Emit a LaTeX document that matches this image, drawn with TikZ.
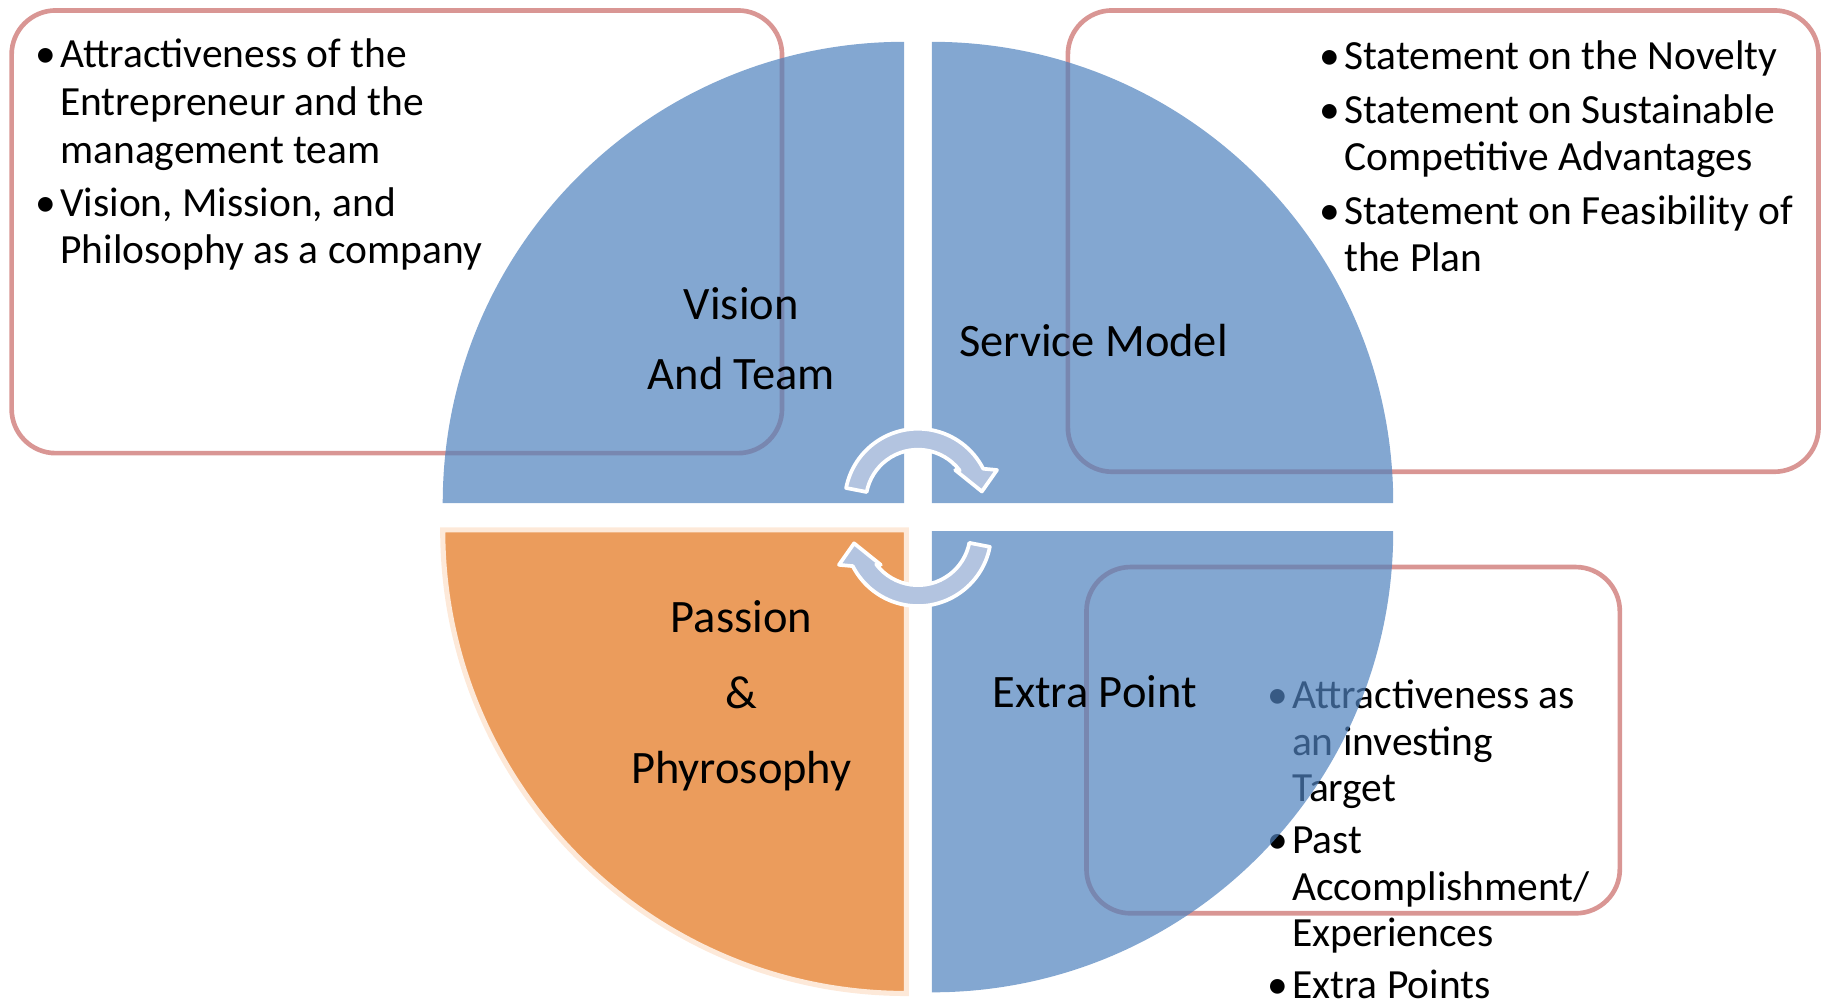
\documentclass[tikz,border=0pt]{standalone}
\usepackage{fontspec}
\setmainfont{Carlito}
\definecolor{boxline}{HTML}{D99694}
\definecolor{quadblue}{HTML}{4F81BD}
\definecolor{quadorange}{HTML}{EB9C5C}
\definecolor{peach}{HTML}{FDE9D9}
\definecolor{arrowblue}{HTML}{B3C4E0}
\newcommand{\bul}{\makebox[9.25pt][l]{\hspace{-1.4pt}\textbullet}}

\tikzset{
  notebox/.style={draw=boxline,line width=2pt,rounded corners=19pt},
  note/.style={anchor=base west,inner sep=0pt,font=\fontsize{17.85pt}{20.5pt}\selectfont},
  quad/.style={fill=quadblue,fill opacity=0.7},
  quadtext/.style={anchor=base,inner sep=0pt,font=\fontsize{20pt}{30pt}\selectfont},
  cycarrow/.style={fill=arrowblue,draw=white,line width=1.6pt,line join=round}
}

\begin{document}
\begin{tikzpicture}[x=0.5pt,y=0.5pt]
  \useasboundingbox (0,0) rectangle (1568,865);
  % boxes with the bullet texts (under the pie)
  \draw[notebox] (10,475) rectangle (673,856);
  \draw[notebox] (919,459) rectangle (1565,856);
  \draw[notebox] (935,79) rectangle (1394,377);
  \node[note] (teamnote) at (33,806.5) {\begin{tabular}[t]{@{}l@{}l@{}}
    \bul & Attractiveness of the\\
    & Entrepreneur and the\\
    & management team\\[2.25pt]
    \bul & Vision, Mission, and\\
    & Philosophy as a company
  \end{tabular}};
  \node[note] (servicenote) at (1138,805) {\begin{tabular}[t]{@{}l@{}l@{}}
    \bul & Statement on the Novelty\\[2.5pt]
    \bul & Statement on Sustainable\\
    & Competitive Advantages\\[2.5pt]
    \bul & Statement on Feasibility of\\
    & the Plan
  \end{tabular}};
  \node[note,font=\fontsize{17.85pt}{20pt}\selectfont] (extranote) at (1093,255) {\begin{tabular}[t]{@{}l@{}l@{}}
    \bul & Attractiveness as\\
    & an investing\\
    & Target\\[2.35pt]
    \bul & Past\\
    & Accomplishment/\\
    & Experiences\\[2.35pt]
    \bul & Extra Points
  \end{tabular}};
  % the four quarters
  \fill[quad] (778,432) -- (381,432) arc[start angle=180,end angle=90,radius=397] -- cycle;
  \fill[quad] (802,432) -- (802,829) arc[start angle=90,end angle=0,radius=397] -- cycle;
  \fill[quad] (802,408) -- (802,11) arc[start angle=270,end angle=360,radius=397] -- cycle;
  \draw[fill=quadorange,draw=peach,line width=2.2pt]
    (780,409) -- (381,409) arc[start angle=180,end angle=270,radius=399] -- cycle;
  % turning arrows in the middle
  \begin{scope}[shift={(790,419.7)}]
    \foreach \r in {0,180}
      \draw[cycarrow,rotate=\r,shift={(0,13.3)}]
        (169:63) arc[start angle=169,end angle=27,radius=63]
        -- (68,27.5) -- (55,9) -- (32,27.5) -- (37:45)
        arc[start angle=37,end angle=169,radius=45] -- cycle;
  \end{scope}
  % quarter labels
  \node[quadtext] (vision) at (638,590) {\begin{tabular}[t]{@{}c@{}}Vision\\And Team\end{tabular}};
  \node[quadtext] (service) at (941,558.5) {Service Model};
  \node[quadtext,font=\fontsize{20pt}{32.5pt}\selectfont] (passion) at (638,320.5)
    {\begin{tabular}[t]{@{}c@{}}Passion\\\&\\Phyrosophy\end{tabular}};
  \node[quadtext] (extra) at (942,256.5) {Extra Point};
\end{tikzpicture}
\end{document}
